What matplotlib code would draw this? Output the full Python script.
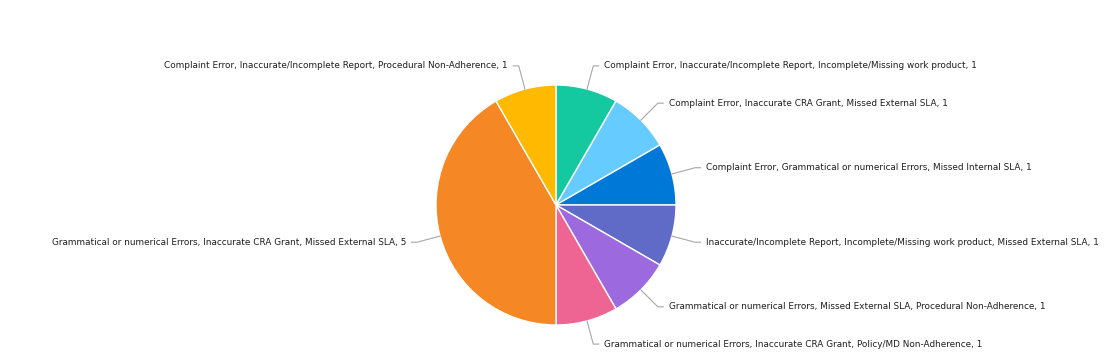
import numpy as np
import matplotlib
matplotlib.use("Agg")
import matplotlib.pyplot as plt

labels = [
    "Complaint Error, Inaccurate/Incomplete Report, Incomplete/Missing work product",
    "Complaint Error, Inaccurate CRA Grant, Missed External SLA",
    "Complaint Error, Grammatical or numerical Errors, Missed Internal SLA",
    "Inaccurate/Incomplete Report, Incomplete/Missing work product, Missed External SLA",
    "Grammatical or numerical Errors, Missed External SLA, Procedural Non-Adherence",
    "Grammatical or numerical Errors, Inaccurate CRA Grant, Policy/MD Non-Adherence",
    "Grammatical or numerical Errors, Inaccurate CRA Grant, Missed External SLA",
    "Complaint Error, Inaccurate/Incomplete Report, Procedural Non-Adherence",
]
counts = [1, 1, 1, 1, 1, 1, 5, 1]
colors = ["#14C9A0", "#66CCFF", "#0078D7", "#5F6BC6", "#9C6ADE",
          "#EE6594", "#F58725", "#FFB900"]

W, H = 1111, 364
cx, cy, R = 556, 205, 120

fig = plt.figure(figsize=(W / 100, H / 100), dpi=100)
ax = fig.add_axes([0, 0, 1, 1])

wedges, _ = ax.pie(counts, colors=colors, startangle=90, counterclock=False,
                   radius=1, center=(0, 0), frame=True,
                   wedgeprops=dict(edgecolor="white", linewidth=1))
ax.set_xlim(-cx / R, (W - cx) / R)
ax.set_ylim(-(H - cy) / R, cy / R)
ax.axis("off")

for w, lab, n in zip(wedges, labels, counts):
    ang = np.deg2rad((w.theta1 + w.theta2) / 2)
    x0, y0 = np.cos(ang), np.sin(ang)
    x1, y1 = 1.2 * x0, 1.2 * y0
    side = 1 if x0 >= 0 else -1
    x2 = x1 + side * 0.045
    ax.plot([x0, x1, x2], [y0, y1, y1], color="#a6a6a6", lw=0.8)
    ax.text(x2 + side * 0.045, y1, f"{lab}, {n}", fontsize=6.4,
            color="#1f1f1f", va="center",
            ha="left" if side > 0 else "right")

fig.savefig("out.png", dpi=100)
